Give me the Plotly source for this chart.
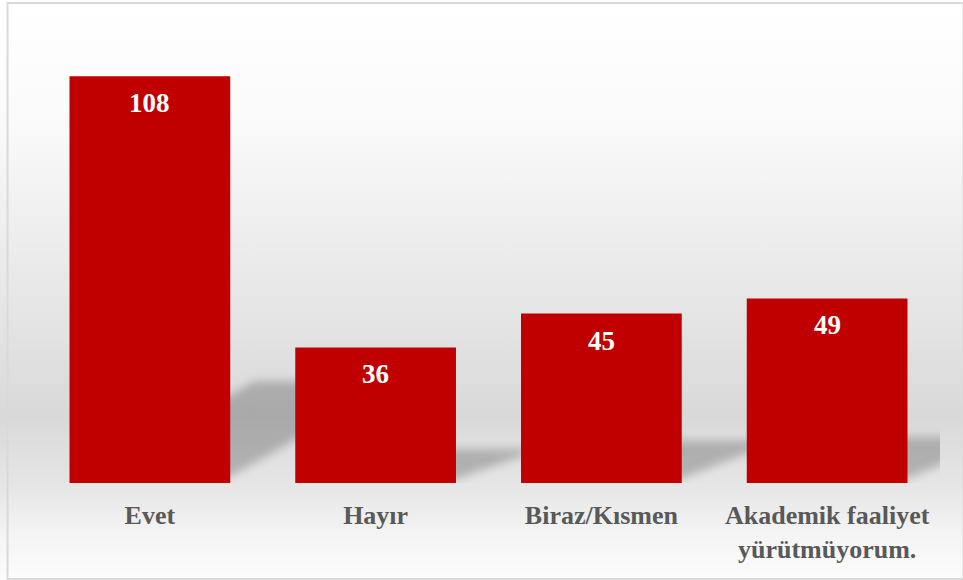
import base64
import plotly.graph_objs as go

categories = ["Evet", "Hayır", "Biraz/Kısmen", "Akademik faaliyet<br>yürütmüyorum."]
counts = [108, 36, 45, 49]

bar_color = "#C00000"
label_grey = "#595959"
font_family = "Liberation Serif, Times New Roman, serif"

x_idx = list(range(len(categories)))
bar_width = 0.712
y_max = 120

# rough pixel size of one axis unit, used only to keep the shadow blur round
px_per_x = 226
px_per_y = 3.77


def svg_uri(svg):
    return "data:image/svg+xml;base64," + base64.b64encode(svg.encode()).decode()


# chart-area gradient: white -> light grey -> white
bg_svg = (
    '<svg xmlns="http://www.w3.org/2000/svg" width="100" height="100" '
    'viewBox="0 0 100 100" preserveAspectRatio="none">'
    '<defs><linearGradient id="g" x1="0" y1="0" x2="0" y2="1">'
    '<stop offset="0" stop-color="#ffffff"/>'
    '<stop offset="0.2" stop-color="#fbfbfb"/>'
    '<stop offset="0.45" stop-color="#ebebeb"/>'
    '<stop offset="0.72" stop-color="#d9d9d9"/>'
    '<stop offset="0.84" stop-color="#e6e6e6"/>'
    '<stop offset="0.92" stop-color="#f4f4f4"/>'
    '<stop offset="1" stop-color="#fcfcfc"/>'
    '</linearGradient></defs>'
    '<rect width="100" height="100" fill="url(#g)"/></svg>'
)

images = [
    dict(
        source=svg_uri(bg_svg),
        xref="paper", yref="paper",
        x=-0.045, y=1.075, sizex=1.09, sizey=1.29,
        sizing="stretch", xanchor="left", yanchor="top",
        layer="below",
    )
]

# perspective shadows cast back/right of each bar
for i, v in zip(x_idx, counts):
    h = 0.25 * v
    dx = 0.25 + 0.005 * v
    pad_x = 0.08
    pad_y = 4
    x0 = i - bar_width / 2 - pad_x
    box_w = bar_width + dx + 2 * pad_x
    box_h = h + 2 * pad_y
    W = box_w * px_per_x
    H = box_h * px_per_y
    px = lambda xx: (xx - x0) * px_per_x
    py = lambda yy: (h + pad_y - yy) * px_per_y
    L = i - bar_width / 2 + 0.03
    R = i + bar_width / 2 - 0.05
    pts = [(L, 0), (R, 0), (R + dx, h), (L + dx, h)]
    poly = " ".join(f"{px(a):.1f},{py(b):.1f}" for a, b in pts)
    sh_svg = (
        f'<svg xmlns="http://www.w3.org/2000/svg" width="{W:.0f}" height="{H:.0f}" '
        f'viewBox="0 0 {W:.1f} {H:.1f}" preserveAspectRatio="none">'
        '<defs><filter id="b" x="-20%" y="-20%" width="140%" height="140%">'
        '<feGaussianBlur stdDeviation="5"/></filter></defs>'
        f'<polygon points="{poly}" fill="#000" fill-opacity="0.22" filter="url(#b)"/></svg>'
    )
    images.append(
        dict(
            source=svg_uri(sh_svg),
            xref="x", yref="y",
            x=x0, y=h + pad_y, sizex=box_w, sizey=box_h,
            sizing="stretch", xanchor="left", yanchor="top",
            layer="below",
        )
    )

trace_bars = go.Bar(
    x=x_idx,
    y=counts,
    width=bar_width,
    marker=dict(color=bar_color, line=dict(width=0)),
    hoverinfo="skip",
)

annotations = [
    dict(
        x=i, y=v, xref="x", yref="y",
        text=str(v), showarrow=False,
        yanchor="middle", yshift=-27,
        font=dict(family=font_family, size=27, color="white", weight="bold"),
    )
    for i, v in zip(x_idx, counts)
]

border = dict(
    type="rect", xref="paper", yref="paper",
    x0=-0.0326, x1=1.026, y0=-0.2124, y1=1.062,
    line=dict(color="#d9d9d9", width=2),
    fillcolor="rgba(0,0,0,0)",
    layer="above",
)

fig = go.Figure(
    data=[trace_bars],
    layout=go.Layout(
        width=963,
        height=580,
        margin=dict(l=36.5, r=22.5, t=31, b=97),
        paper_bgcolor="white",
        plot_bgcolor="rgba(0,0,0,0)",
        showlegend=False,
        xaxis=dict(
            range=[-0.5, len(categories) - 0.5],
            tickvals=x_idx,
            ticktext=[f"<b>{c}</b>" for c in categories],
            tickfont=dict(family=font_family, size=26, color=label_grey),
            showgrid=False, zeroline=False, showline=False,
            ticks="outside", ticklen=9, tickcolor="rgba(0,0,0,0)",
        ),
        yaxis=dict(
            range=[0, y_max],
            visible=False,
            showgrid=False, zeroline=False,
        ),
        images=images,
        annotations=annotations,
        shapes=[border],
    ),
)

fig.write_html(
    "out.html",
    config=dict(displayModeBar=False),
    post_script="document.body.style.margin='0';",
)
